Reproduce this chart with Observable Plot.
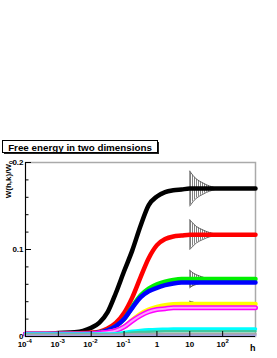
<!DOCTYPE html>
<html><head><meta charset="utf-8">
<script src="https://cdn.jsdelivr.net/npm/d3@7"></script>
<script src="https://cdn.jsdelivr.net/npm/@observablehq/plot@0.6"></script>
<style>body{margin:0;background:#fff} svg{display:block}</style>
</head><body><div id="chart"></div>
<script>
// field h (log axis)
const hValues = [1e-4, 3.16e-4, 1e-3, 3.16e-3, 5.62e-3, 1e-2, 1.78e-2, 3.16e-2, 5.62e-2, 0.1, 0.178, 0.316, 0.562, 1, 1.78, 3.16, 5.62, 10, 31.6, 100, 316, 1000];
// W(h,k)/W0 for each k
const wBlack   = [0.003, 0.003, 0.004, 0.005, 0.0065, 0.010, 0.016, 0.028, 0.050, 0.075, 0.099, 0.127, 0.151, 0.161, 0.166, 0.168, 0.169, 0.170, 0.170, 0.170, 0.170, 0.170];
const wRed     = [0.003, 0.003, 0.003, 0.0035, 0.004, 0.0045, 0.0056, 0.0093, 0.0155, 0.027, 0.045, 0.068, 0.090, 0.105, 0.112, 0.115, 0.116, 0.117, 0.117, 0.117, 0.117, 0.117];
const wGreen   = [0.003, 0.003, 0.003, 0.003, 0.003, 0.0035, 0.0045, 0.007, 0.012, 0.020, 0.034, 0.047, 0.055, 0.060, 0.063, 0.065, 0.066, 0.066, 0.066, 0.066, 0.066, 0.066];
const wBlue    = [0.003, 0.003, 0.003, 0.003, 0.003, 0.0035, 0.0045, 0.007, 0.012, 0.020, 0.033, 0.045, 0.052, 0.056, 0.059, 0.061, 0.062, 0.062, 0.062, 0.062, 0.062, 0.062];
const wYellow  = [0.003, 0.003, 0.003, 0.003, 0.003, 0.003, 0.004, 0.005, 0.007, 0.011, 0.019, 0.026, 0.031, 0.034, 0.036, 0.037, 0.0375, 0.0375, 0.0375, 0.0375, 0.0375, 0.0375];
const wMagenta = [0.003, 0.003, 0.003, 0.003, 0.003, 0.003, 0.004, 0.005, 0.0068, 0.011, 0.018, 0.024, 0.0285, 0.031, 0.032, 0.033, 0.033, 0.033, 0.033, 0.033, 0.033, 0.033];
const wCyan    = [0.003, 0.003, 0.003, 0.003, 0.003, 0.003, 0.003, 0.003, 0.0032, 0.0045, 0.006, 0.007, 0.0077, 0.0081, 0.0083, 0.0085, 0.0085, 0.0085, 0.0085, 0.0085, 0.0085, 0.0085];
const wTeal    = [0.0025, 0.0025, 0.0025, 0.0025, 0.0025, 0.0025, 0.0025, 0.0025, 0.0027, 0.0035, 0.0045, 0.0052, 0.0056, 0.0058, 0.0059, 0.006, 0.006, 0.006, 0.006, 0.006, 0.006, 0.006];
const wGray    = [0.002, 0.002, 0.002, 0.002, 0.002, 0.002, 0.002, 0.002, 0.002, 0.0023, 0.0026, 0.0028, 0.003, 0.003, 0.003, 0.003, 0.003, 0.003, 0.003, 0.003, 0.003, 0.003];
const wLavender= [0.001, 0.001, 0.001, 0.001, 0.001, 0.001, 0.001, 0.001, 0.001, 0.001, 0.0011, 0.0011, 0.0011, 0.0011, 0.0011, 0.0011, 0.0011, 0.0011, 0.0011, 0.0011, 0.0011, 0.0011];

// error bands (half widths) for h >= 10
const bandH = [10, 12.6, 15.8, 20, 25.1, 31.6, 39.8, 50.1, 63.1];
const errBlack  = [0.020, 0.015, 0.011, 0.0085, 0.0065, 0.0045, 0.003, 0.0018, 0.0008];
const errRed    = [0.017, 0.013, 0.0095, 0.0072, 0.0055, 0.0038, 0.0025, 0.0015, 0.0006];
const errGreen  = [0.010, 0.007, 0.005, 0.0035, 0.0022, 0.0012, 0.0005, 0, 0];
const errBlue   = [0.005, 0.0035, 0.0022, 0.0012, 0.0005, 0, 0, 0, 0];
const errYellow = [0.003, 0.002, 0.001, 0.0004, 0, 0, 0, 0, 0];

// axis ticks and labels
const xTicks = [1e-4, 1e-3, 1e-2, 1e-1, 1, 10, 100];
const xNegTicks = [1e-4, 1e-3, 1e-2, 1e-1];
const xNegExp = ["-4", "-3", "-2", "-1"];
const xPlainTicks = [1, 10];
const xPlainLabels = ["1", "10"];
const xPosTicks = [100];
const xPosExp = ["2"];
const yTicks = [0, 0.1, 0.2];
const yTickLabels = ["0", "0.1", "0.2"];
const yMinorTicks = [0.02, 0.04, 0.06, 0.08, 0.12, 0.14, 0.16, 0.18];

const titleText = "Free energy in two dimensions";
const yTitleMain = "W(h,k)/W";
const yTitleSub = "0";
const xTitle = "h";

const seriesValues = [wBlack, wRed, wGreen, wBlue, wYellow, wMagenta, wCyan, wTeal, wGray, wLavender];
const seriesErr = [errBlack, errRed, errGreen, errBlue, errYellow, null, null, null, null, null];
const seriesColors = ["#000000", "#ff0000", "#00f000", "#0000ff", "#ffff00", "#ff00ff", "#00ffff", "#40c8a0", "#a8a8a8", "#a0a0e0"];
const seriesWidths = [4.5, 4.5, 4.5, 4.5, 4.5, 5, 3.5, 2.5, 2.5, 2];

const curveMarks = seriesValues.map((vals, si) =>
  Plot.line(hValues.map((h, i) => ({h, v: vals[i]})), {x: "h", y: "v", stroke: seriesColors[si], strokeWidth: seriesWidths[si], curve: "monotone-x"})
);
const magentaInner = Plot.line(hValues.map((h, i) => ({h, v: wMagenta[i]})), {x: "h", y: "v", stroke: "#ffa0ff", strokeWidth: 2, curve: "monotone-x"});

const bandRows = [];
seriesErr.forEach((err, si) => {
  if (!err) return;
  const center = seriesValues[si][seriesValues[si].length - 1];
  bandH.forEach((h, i) => bandRows.push({series: si, h, lo: center - err[i], hi: center + err[i], first: i === 0}));
});

const frameW = 277 - 25 - 22, frameH = 358 - 162 - 22;
const font = "Liberation Sans, Helvetica, Arial, sans-serif";
const lbl = {frameAnchor: "bottom", fontWeight: "bold"};

const plot = Plot.plot({
  width: 277, height: 358,
  marginTop: 162, marginLeft: 25, marginRight: 22, marginBottom: 22,
  x: {type: "log", domain: [1e-4, 1e3], axis: null},
  y: {domain: [0, 0.2], axis: null},
  style: {fontFamily: font, background: "white", overflow: "visible"},
  marks: [
    Plot.frame({stroke: "#aaaaaa", strokeWidth: 1.5}),
    Plot.areaY(bandRows, {x: "h", y1: "lo", y2: "hi", z: "series", fill: "url(#hatch)"}),
    Plot.line(bandRows, {x: "h", y: "hi", z: "series", stroke: "#444", strokeWidth: 0.8}),
    Plot.line(bandRows, {x: "h", y: "lo", z: "series", stroke: "#444", strokeWidth: 0.8}),
    Plot.ruleX(bandRows.filter(d => d.first), {x: "h", y1: "lo", y2: "hi", stroke: "#777", strokeWidth: 1}),
    ...curveMarks.slice(0, 6),
    magentaInner,
    ...curveMarks.slice(6),
    Plot.ruleX([1e-4], {stroke: "black", strokeWidth: 1}),
    Plot.ruleY([0], {stroke: "black", strokeWidth: 1}),
    Plot.tickY(yTicks, {y: d => d, insetRight: frameW - 6, stroke: "black"}),
    Plot.tickY(yMinorTicks, {y: d => d, insetRight: frameW - 3.5, stroke: "black"}),
    Plot.tickX(xTicks, {x: d => d, insetTop: frameH - 5, stroke: "black"}),
    Plot.text(yTicks, {y: d => d, text: (d, i) => yTickLabels[i], frameAnchor: "left", dx: -2, dy: -0.5, textAnchor: "end", fontSize: 8, fontWeight: "bold"}),
    // 10^-n labels
    Plot.text(xNegTicks, {...lbl, x: d => d, text: () => "10", dx: -3.4, dy: 10, fontSize: 8}),
    Plot.text(xNegTicks, {...lbl, x: d => d, text: (d, i) => xNegExp[i], dx: 1.1, dy: 6.5, textAnchor: "start", fontSize: 6}),
    // 1, 10
    Plot.text(xPlainTicks, {...lbl, x: d => d, text: (d, i) => xPlainLabels[i], dy: 10, fontSize: 8}),
    // 10^2
    Plot.text(xPosTicks, {...lbl, x: d => d, text: () => "10", dx: -1.6, dy: 10, fontSize: 8}),
    Plot.text(xPosTicks, {...lbl, x: d => d, text: (d, i) => xPosExp[i], dx: 2.9, dy: 6.5, textAnchor: "start", fontSize: 6}),
    Plot.text([xTitle], {frameAnchor: "bottom-right", dy: 14, textAnchor: "end", fontSize: 9, fontWeight: "bold"})
  ]
});

const svg = d3.select(plot);
svg.insert("defs", ":first-child").html(
  '<pattern id="hatch" patternUnits="userSpaceOnUse" width="2" height="4"><rect x="0" y="0" width="1" height="4" fill="#808080"/></pattern>'
);
// y-axis title (rotated)
const yt = svg.append("text").attr("transform", "translate(11,161) rotate(-90)").attr("text-anchor", "end")
  .attr("font-family", font).attr("font-weight", "bold").attr("font-size", 8);
yt.append("tspan").text(yTitleMain);
yt.append("tspan").attr("font-size", 5.5).attr("dy", 1.5).text(yTitleSub);
// title box with shadow
const tb = svg.append("g");
tb.append("rect").attr("x", 4).attr("y", 142).attr("width", 155).attr("height", 12).attr("fill", "#222");
tb.append("rect").attr("x", 2.5).attr("y", 140.5).attr("width", 155).attr("height", 12).attr("fill", "white").attr("stroke", "black").attr("stroke-width", 1);
tb.append("text").attr("x", 80).attr("y", 150.5).attr("text-anchor", "middle")
  .attr("font-family", font).attr("font-weight", "bold").attr("font-size", 9.8).text(titleText);

document.getElementById("chart").appendChild(plot);
</script>
</body></html>
